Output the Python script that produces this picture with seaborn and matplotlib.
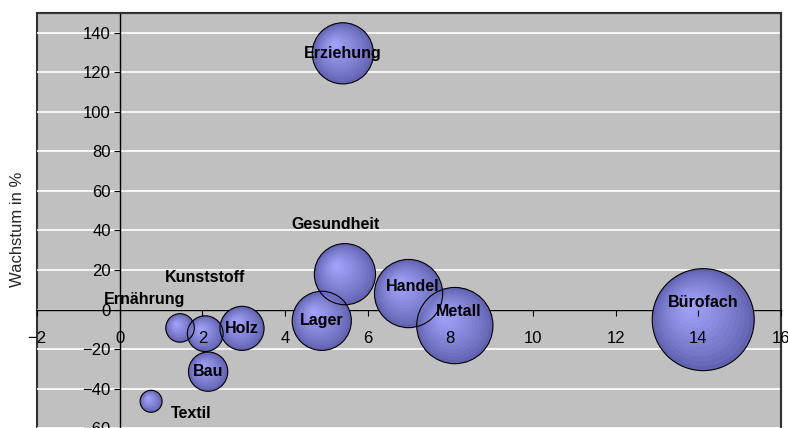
import numpy as np
import pandas as pd
import matplotlib
matplotlib.use('Agg')
import matplotlib.pyplot as plt
import seaborn as sns

berufe = ['Erziehung', 'Gesundheit', 'Kunststoff', 'Ernährung', 'Holz', 'Bau',
          'Textil', 'Lager', 'Handel', 'Metall', 'Bürofach']
anteil = [5.40, 5.45, 1.46, 2.07, 2.96, 2.14, 0.76, 4.89, 6.99, 8.11, 14.12]
wachstum = [129.6, 17.9, -9.3, -12.2, -9.5, -31.4, -46.4, -5.7, 8.1, -8.1, -5.1]
groesse = [930, 930, 205, 320, 484, 385, 123, 870, 1156, 1444, 2580]

x_ticks = list(range(-2, 17, 2))
y_ticks = list(range(-60, 141, 20))

df = pd.DataFrame({'beruf': berufe, 'anteil': anteil,
                   'wachstum': wachstum, 'groesse': groesse})

# Beschriftungs-Versatz in Punkt (Excel-Positionen der Datenbeschriftungen)
label_offset = {
    'Erziehung': (0, 0), 'Gesundheit': (-7, 36), 'Kunststoff': (18, 36),
    'Ernährung': (-44, 24.5), 'Holz': (0, 0), 'Bau': (0, 0),
    'Textil': (29, -9), 'Lager': (0, 0), 'Handel': (3, 5),
    'Metall': (3, 10), 'Bürofach': (0, 12),
}

sns.set_style('white')
plt.rcParams['font.family'] = ['Liberation Sans', 'DejaVu Sans']

fig = plt.figure(figsize=(7.88, 4.28), dpi=100)
ax = fig.add_axes([0.047, -0.0928, 0.944, 1.0624])
ax.set_facecolor('#C0C0C0')
ax.patch.set_edgecolor('#333333')
ax.patch.set_linewidth(1.5)
ax.set_xlim(-2, 16)
ax.set_ylim(-80, 150)

# Pixel pro Dateneinheit, fuer den Versatz des Glanzpunkts
bbox = ax.get_window_extent()
px_x = bbox.width / 18
px_y = bbox.height / 230

# Blasen mit radialem Verlauf (mehrere Schichten, Glanz nach links oben)
s_min, s_max = 251, 5393
g = np.array(groesse, dtype=float)
s_full = s_min + (g - g.min()) / (g.max() - g.min()) * (s_max - s_min)
r_px = np.sqrt(s_full) / 2 * 100 / 72
dark = np.array([0x62, 0x62, 0xB0]) / 255
light = np.array([0xA6, 0xA6, 0xFF]) / 255
n_layers = 14
for i in range(n_layers):
    f = 1 - i / n_layers
    t = (1 - f) ** 0.8
    col = dark + (light - dark) * t
    shift = 0.3 * (1 - f) * r_px
    layer = df.assign(xs=df['anteil'] - shift / px_x,
                      ys=df['wachstum'] + shift / px_y)
    sns.scatterplot(data=layer, x='xs', y='ys', size='groesse',
                    sizes=(s_min * f ** 2, s_max * f ** 2),
                    size_norm=(min(groesse), max(groesse)),
                    color=col, edgecolor='none', linewidth=0,
                    legend=False, ax=ax, zorder=3)
# schwarzer Rand
sns.scatterplot(data=df, x='anteil', y='wachstum', size='groesse',
                sizes=(s_min, s_max), size_norm=(min(groesse), max(groesse)),
                facecolor='none', edgecolor='black', linewidth=0.8,
                legend=False, ax=ax, zorder=3.5)

for b, xv, yv in zip(berufe, anteil, wachstum):
    ax.annotate(b, (xv, yv), xytext=label_offset[b], textcoords='offset points',
                ha='center', va='center', fontsize=11.5, fontweight='bold',
                color='black', zorder=6)

ax.set_xticks(x_ticks)
ax.set_yticks(y_ticks)
ax.set_xlabel('')
ax.set_ylabel('Wachstum in %', fontsize=12)
ax.yaxis.set_label_coords(-0.016, 0.525)

ax.spines['left'].set_position(('data', 0))
ax.spines['bottom'].set_position(('data', 0))
for sp in ['left', 'bottom']:
    ax.spines[sp].set_color('black')
    ax.spines[sp].set_linewidth(1.0)
for sp in ['top', 'right']:
    ax.spines[sp].set_color('#333333')
    ax.spines[sp].set_linewidth(1.5)

ax.yaxis.grid(True, color='white', linewidth=1.2)
ax.xaxis.grid(False)
ax.tick_params(axis='both', direction='out', length=4.5, width=0.8,
               colors='black', labelsize=12)
ax.tick_params(axis='x', pad=11, bottom=True)
ax.tick_params(axis='y', pad=2, left=True)
ax.yaxis.set_zorder(1)
ax.xaxis.set_zorder(5)

fig.savefig('out.png', dpi=100)
